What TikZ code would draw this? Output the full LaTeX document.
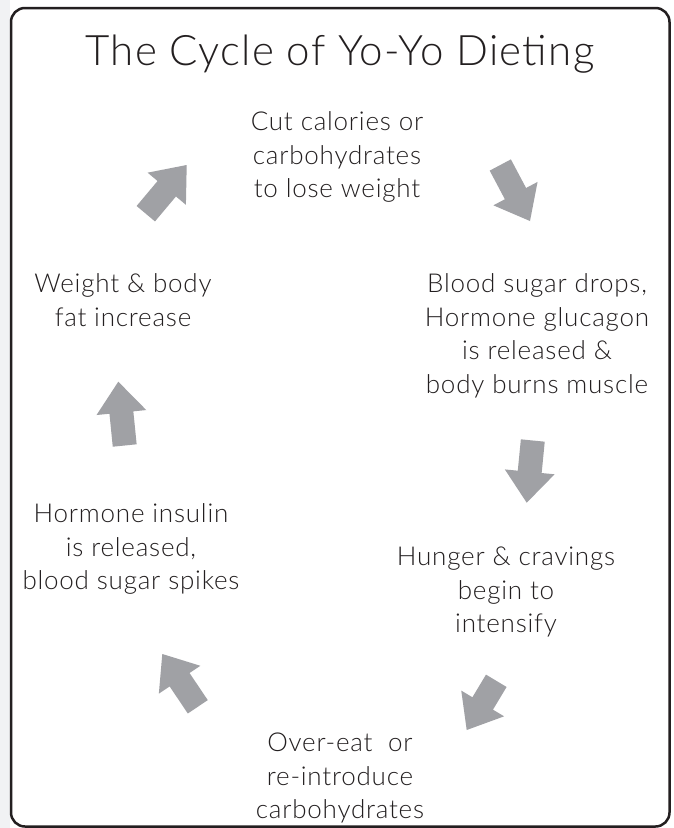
\documentclass[tikz,border=0pt]{standalone}
\usepackage{fontspec}
\setmainfont{Lato Light}
\usetikzlibrary{calc}
\definecolor{ink}{HTML}{231F20}
\definecolor{arr}{HTML}{A0A1A5}
\definecolor{side}{HTML}{F1F2F4}
\newcommand\blkarrow[3]{%
  \coordinate (#1t) at (#2);
  \coordinate (#1p) at (#3);
  \coordinate (#1h) at ($(#1p)!31pt!(#1t)$);
  \fill[arr] ($(#1t)!12pt!90:(#1p)$) -- ($(#1h)!12pt!90:(#1p)$) --
    ($(#1h)!25pt!90:(#1p)$) -- (#1p) -- ($(#1h)!25pt!-90:(#1p)$) --
    ($(#1h)!12pt!-90:(#1p)$) -- ($(#1t)!12pt!-90:(#1p)$) -- cycle;
}
\tikzset{
  txt/.style={align=center, text=ink, inner sep=0pt,
    font=\fontsize{26}{33.5}\selectfont\addfontfeatures{LetterSpace=3}},
  ttl/.style={text=ink, inner sep=0pt, font=\fontsize{42}{48}\selectfont\addfontfeatures{LetterSpace=3}},
}
\begin{document}
\begin{tikzpicture}[x=1pt,y=-1pt]
\useasboundingbox (0,0) rectangle (673,828);
\fill[white] (0,0) rectangle (673,828);
\fill[side] (0,0) rectangle (10,828);
\draw[ink, line width=2.5pt, rounded corners=14pt] (11,8) rectangle (669.5,826.5);
\node[ttl, anchor=base] (title) at (340,65) {The Cycle of Yo-Yo Dieting};
\node[txt] (n1) at (337,157) {Cut calories or\\carbohydrates\\to lose weight};
\node[txt] (n2) at (537,336) {Blood sugar drops,\\Hormone glucagon\\is released \&\\body burns muscle};
\node[txt] (n3) at (123,300) {Weight \& body\\fat increase};
\node[txt] (n4) at (131,549) {Hormone insulin\\is released,\\blood sugar spikes};
\node[txt] (n5) at (506,592) {Hunger \& cravings\\begin to\\intensify};
\node[txt] (n6) at (340,778) {Over-eat~~or\\re-introduce\\carbohydrates};
\blkarrow{a1}{145.8,213.7}{186.7,165}
\blkarrow{a2}{500.3,165}{530,221}
\blkarrow{a3}{532.8,440.5}{526.7,502.7}
\blkarrow{a4}{496.3,680.8}{466.7,730}
\blkarrow{a5}{197.8,706.8}{162.3,654}
\blkarrow{a6}{124.7,445.5}{118.3,381.7}
\end{tikzpicture}
\end{document}
